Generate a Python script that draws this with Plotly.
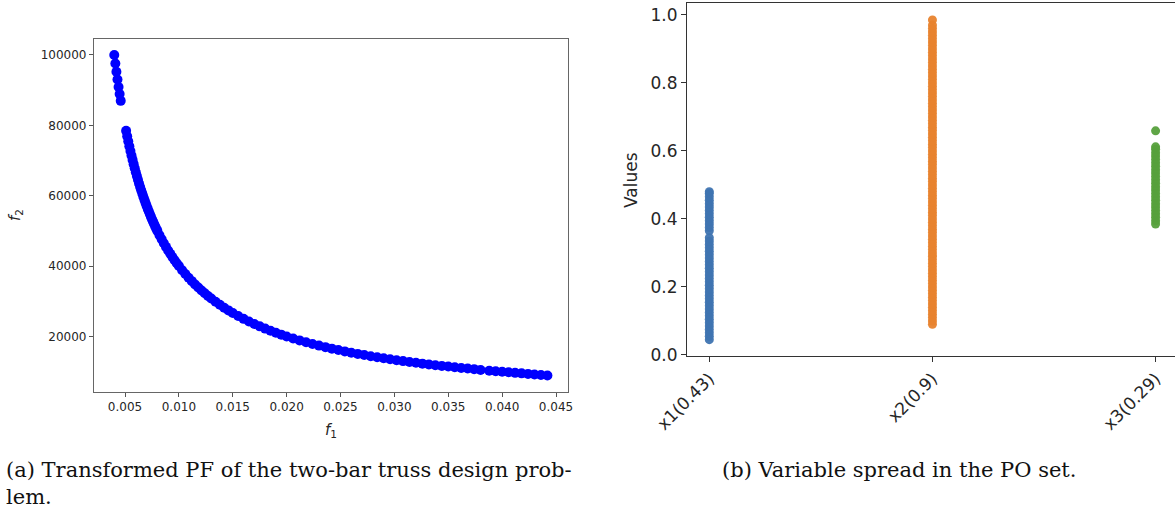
import plotly.graph_objects as go

# ---------------- data: panel (a) Pareto front ----------------
f1_vals = [0.0040, 0.0041, 0.0042, 0.0043, 0.0044, 0.0045, 0.0046,
           0.0051, 0.0052, 0.0053, 0.0054, 0.0055, 0.0056, 0.0057, 0.0058, 0.0059,
           0.0060, 0.0061, 0.0062, 0.0063, 0.0064, 0.0065, 0.0066, 0.0067, 0.0068,
           0.0069, 0.0070, 0.0071, 0.0072, 0.0073, 0.0074, 0.0075, 0.0076, 0.0077,
           0.0078, 0.0079, 0.0080, 0.0082, 0.0084, 0.0086, 0.0088, 0.0090, 0.0092,
           0.0094, 0.0096, 0.0098, 0.0100, 0.0103, 0.0106, 0.0109, 0.0112, 0.0115,
           0.0118, 0.0121, 0.0124, 0.0127, 0.0130, 0.0134, 0.0138, 0.0142, 0.0146,
           0.0150, 0.0155, 0.0160, 0.0165, 0.0170, 0.0175, 0.0180, 0.0185, 0.0190,
           0.0195, 0.0200, 0.0206, 0.0212, 0.0218, 0.0224, 0.0230, 0.0236, 0.0242,
           0.0248, 0.0254, 0.0260, 0.0266, 0.0272, 0.0278, 0.0284, 0.0290, 0.0296,
           0.0302, 0.0308, 0.0314, 0.0320, 0.0326, 0.0332, 0.0338, 0.0344, 0.0350,
           0.0356, 0.0362, 0.0368, 0.0374, 0.0380,
           0.0388, 0.0394, 0.0400, 0.0406, 0.0412, 0.0418, 0.0424, 0.0430, 0.0436, 0.0442]
f2_vals = [100000, 97560, 95240, 93020, 90910, 88890, 86960,
           78430, 76920, 75470, 74070, 72730, 71430, 70180, 68970, 67800,
           66670, 65570, 64520, 63490, 62500, 61540, 60610, 59700, 58820,
           57970, 57140, 56340, 55560, 54790, 54050, 53330, 52630, 51950,
           51280, 50630, 50000, 48780, 47620, 46510, 45450, 44440, 43480,
           42550, 41670, 40820, 40000, 38830, 37740, 36700, 35710, 34780,
           33900, 33060, 32260, 31500, 30770, 29850, 28990, 28170, 27400,
           26670, 25810, 25000, 24240, 23530, 22860, 22220, 21620, 21050,
           20510, 20000, 19420, 18870, 18350, 17860, 17390, 16950, 16530,
           16130, 15750, 15380, 15040, 14710, 14390, 14080, 13790, 13510,
           13250, 12990, 12740, 12500, 12270, 12050, 11830, 11630, 11430,
           11240, 11050, 10870, 10700, 10450,
           10250, 10100, 9950, 9800, 9650, 9500, 9350, 9200, 9050, 8910]

# ---------------- data: panel (b) variable spread ----------------
var_labels = ["x1(0.43)", "x2(0.9)", "x3(0.29)"]
x1_vals = [0.045, 0.055, 0.065, 0.075, 0.085, 0.095, 0.105, 0.115, 0.125, 0.135,
           0.145, 0.155, 0.165, 0.175, 0.185, 0.195, 0.205, 0.215, 0.225, 0.235,
           0.245, 0.255, 0.265, 0.275, 0.285, 0.295, 0.305, 0.315, 0.325, 0.335,
           0.345, 0.365, 0.375, 0.385, 0.395, 0.405, 0.415, 0.425, 0.435, 0.445,
           0.455, 0.465, 0.475, 0.480]
x2_vals = [0.090, 0.100, 0.110, 0.120, 0.130, 0.140, 0.150, 0.160, 0.170, 0.180,
           0.190, 0.200, 0.210, 0.220, 0.230, 0.240, 0.250, 0.260, 0.270, 0.280,
           0.290, 0.300, 0.310, 0.320, 0.330, 0.340, 0.350, 0.360, 0.370, 0.380,
           0.390, 0.400, 0.410, 0.420, 0.430, 0.440, 0.450, 0.460, 0.470, 0.480,
           0.490, 0.500, 0.510, 0.520, 0.530, 0.540, 0.550, 0.560, 0.570, 0.580,
           0.590, 0.600, 0.610, 0.620, 0.630, 0.640, 0.650, 0.660, 0.670, 0.680,
           0.690, 0.700, 0.710, 0.720, 0.730, 0.740, 0.750, 0.760, 0.770, 0.780,
           0.790, 0.800, 0.810, 0.820, 0.830, 0.840, 0.850, 0.860, 0.870, 0.880,
           0.890, 0.900, 0.910, 0.920, 0.930, 0.940, 0.950, 0.960, 0.970, 0.985]
x3_vals = [0.385, 0.395, 0.405, 0.415, 0.425, 0.435, 0.445, 0.455, 0.465, 0.475,
           0.485, 0.495, 0.505, 0.515, 0.525, 0.535, 0.545, 0.555, 0.565, 0.575,
           0.585, 0.595, 0.605, 0.612, 0.659]
var_values = [x1_vals, x2_vals, x3_vals]
var_colors = ["#3f74b1", "#e8832e", "#56a03c"]

W, H = 1175, 515

def px(v):
    return v / W

def py(v):
    return 1 - v / H

fig = go.Figure()

fig.add_trace(go.Scatter(
    x=f1_vals, y=f2_vals, mode="markers", xaxis="x", yaxis="y",
    marker=dict(color="#0000ff", size=10, line=dict(width=0)),
    showlegend=False, hoverinfo="skip"))

for i, (lab, vals, col) in enumerate(zip(var_labels, var_values, var_colors)):
    fig.add_trace(go.Scatter(
        x=[i] * len(vals), y=vals, mode="markers", xaxis="x2", yaxis="y2",
        marker=dict(color=col, size=9, opacity=0.95, line=dict(width=0)),
        showlegend=False, name=lab))

tickfont_small = dict(family="DejaVu Sans", size=12, color="#262626")
tickfont_big = dict(family="DejaVu Sans", size=17, color="#262626")

fig.update_layout(
    width=W, height=H,
    margin=dict(l=0, r=0, t=0, b=0, autoexpand=False),
    paper_bgcolor="white", plot_bgcolor="white",
    xaxis=dict(domain=[px(94), px(568)], range=[0.00212, 0.04611], automargin=False,
               anchor="y", tickvals=[0.005, 0.010, 0.015, 0.020, 0.025, 0.030, 0.035, 0.040, 0.045],
               tickformat=".3f", ticks="outside", ticklen=4, tickcolor="#555",
               showline=True, linecolor="#666", linewidth=1.3, mirror=True,
               showgrid=False, zeroline=False, tickfont=tickfont_small),
    yaxis=dict(domain=[py(391.5), py(39)], range=[4347, 104545], automargin=False,
               anchor="x", tickvals=[20000, 40000, 60000, 80000, 100000],
               tickformat="d", ticks="outside", ticklen=4, tickcolor="#555",
               showline=True, linecolor="#666", linewidth=1.3, mirror=True,
               showgrid=False, zeroline=False, tickfont=tickfont_small),
    xaxis2=dict(domain=[px(687), 1.0], range=[-0.1, 2.087], automargin=False,
                anchor="y2", tickvals=[0, 1, 2], ticktext=var_labels,
                tickangle=-45, ticks="outside", ticklen=5, tickcolor="#333",
                showline=True, linecolor="#333", linewidth=1.2, mirror=True,
                showgrid=False, zeroline=False, tickfont=tickfont_big),
    yaxis2=dict(domain=[py(356), py(3)], range=[-0.003, 1.035], automargin=False,
                anchor="x2", tickvals=[0, 0.2, 0.4, 0.6, 0.8, 1.0],
                tickformat=".1f", ticks="outside", ticklen=5, tickcolor="#333",
                showline=True, linecolor="#333", linewidth=1.2, mirror=True,
                showgrid=False, zeroline=False, tickfont=tickfont_big),
)

annos = [
    dict(text="<i>f</i><sub>1</sub>", x=px(331), y=py(430), xref="paper", yref="paper",
         showarrow=False, font=dict(family="DejaVu Sans", size=15, color="#262626"),
         xanchor="center", yanchor="middle"),
    dict(text="<i>f</i><sub>2</sub>", x=px(15), y=py(215), xref="paper", yref="paper",
         showarrow=False, textangle=-90, font=dict(family="DejaVu Sans", size=15, color="#262626"),
         xanchor="center", yanchor="middle"),
    dict(text="Values", x=px(631), y=py(180), xref="paper", yref="paper",
         showarrow=False, textangle=-90, font=dict(family="DejaVu Sans", size=17, color="#262626"),
         xanchor="center", yanchor="middle"),
    dict(text="(a) Transformed PF of the two-bar truss design prob-<br>lem.",
         x=px(4), y=py(456), xref="paper", yref="paper", showarrow=False,
         align="left", xanchor="left", yanchor="top",
         font=dict(family="DejaVu Serif", size=21, color="#111")),
    dict(text="(b) Variable spread in the PO set.",
         x=px(899), y=py(456), xref="paper", yref="paper", showarrow=False,
         align="center", xanchor="center", yanchor="top",
         font=dict(family="DejaVu Serif", size=21, color="#111")),
]
fig.update_layout(annotations=annos)

fig.write_html("out.html")
